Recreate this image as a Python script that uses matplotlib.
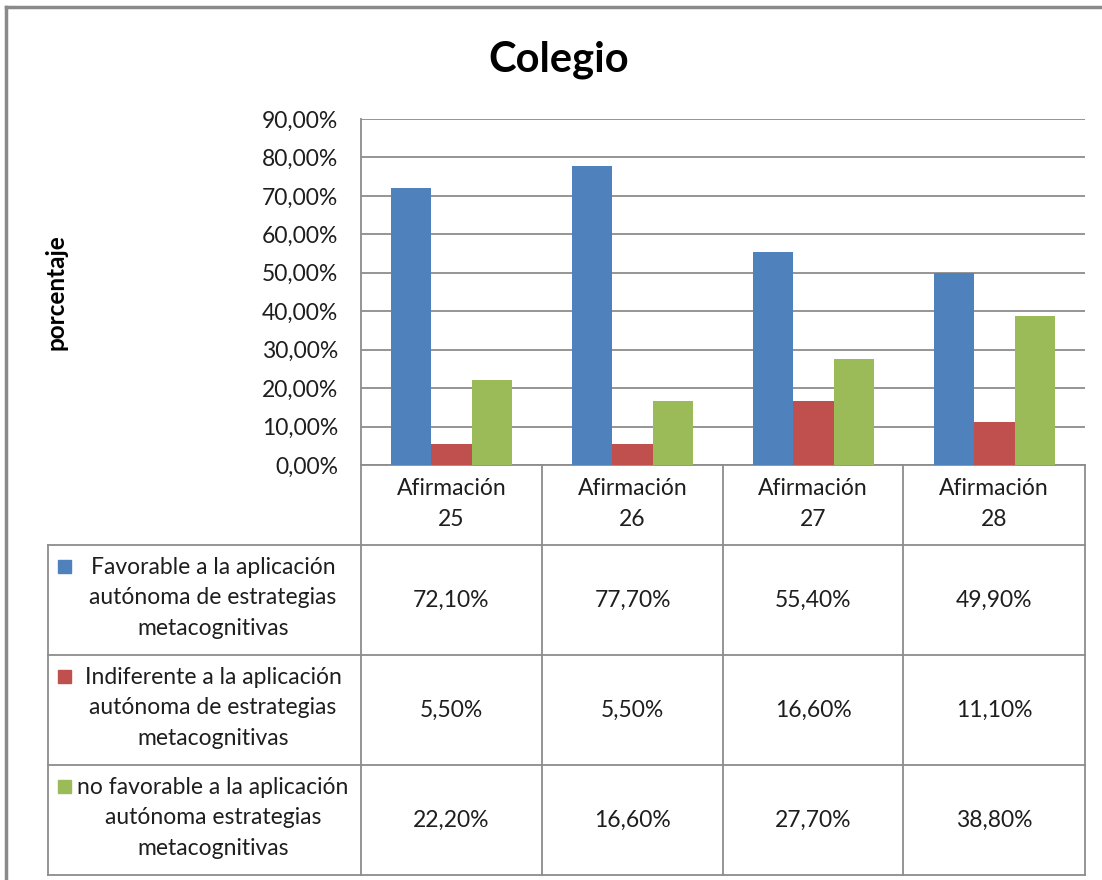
import numpy as np
import matplotlib
matplotlib.use("Agg")
import matplotlib.pyplot as plt
from matplotlib.patches import Rectangle
from matplotlib.ticker import FuncFormatter

plt.rcParams["font.family"] = ["Lato", "DejaVu Sans"]

# data
categories = ["Afirmación\n25", "Afirmación\n26", "Afirmación\n27", "Afirmación\n28"]
series_names = [
    "Favorable a la aplicación\nautónoma de estrategias\nmetacognitivas",
    "Indiferente a la aplicación\nautónoma de estrategias\nmetacognitivas",
    "no favorable a la aplicación\nautónoma estrategias\nmetacognitivas",
]
favorable = [72.10, 77.70, 55.40, 49.90]
indiferente = [5.50, 5.50, 16.60, 11.10]
no_favorable = [22.20, 16.60, 27.70, 38.80]
yticks = [0, 10, 20, 30, 40, 50, 60, 70, 80, 90]

COLORS = ["#4F81BD", "#C0504D", "#9BBB59"]
GRID = "#8C8C8C"
TXT = "#1E1E1E"
FS = 16.5
LS = 1.55

W, H = 1102, 880


def box(x0, y0, x1, y1):
    return [x0 / W, 1 - y1 / H, (x1 - x0) / W, (y1 - y0) / H]


def pct(v):
    return f"{v:.2f}".replace(".", ",") + "%"


fig = plt.figure(figsize=(W / 100, H / 100), dpi=100)

# plot area
ax = fig.add_axes(box(361, 119, 1085, 465))
series = [favorable, indiferente, no_favorable]
x = np.arange(len(categories))
bw = 0.222
for i, (vals, col) in enumerate(zip(series, COLORS)):
    ax.bar(x + (i - 1) * bw, vals, bw, color=col, zorder=3)

ax.set_xlim(-0.5, len(categories) - 0.5)
ax.set_ylim(yticks[0], yticks[-1])
ax.set_yticks(yticks)
ax.yaxis.set_major_formatter(FuncFormatter(lambda v, p: pct(v)))
ax.set_xticks([])
ax.grid(axis="y", color=GRID, lw=1.3, zorder=0)
for s in ["top", "right"]:
    ax.spines[s].set_visible(False)
for s in ["left", "bottom"]:
    ax.spines[s].set_color(GRID)
    ax.spines[s].set_linewidth(1.3)
ax.tick_params(axis="y", length=0, pad=16.5, labelsize=FS, colors=TXT)

# table overlay in pixel coordinates
tab = fig.add_axes([0, 0, 1, 1], facecolor="none")
tab.set_xlim(0, W)
tab.set_ylim(H, 0)
tab.axis("off")

col_edges = [361, 542, 723, 903, 1085]
row_edges = [545, 655, 765, 875]
kw = dict(color=GRID, lw=1.3)
for y in row_edges:
    tab.plot([48, 1085], [y, y], **kw)
tab.plot([48, 48], [545, 875], **kw)
for xe in col_edges:
    tab.plot([xe, xe], [465, 875], **kw)

for j, cat in enumerate(categories):
    cx = (col_edges[j] + col_edges[j + 1]) / 2
    tab.text(cx, 504, cat, ha="center", va="center", fontsize=FS,
             color=TXT, linespacing=LS)
    for r, vals in enumerate(series):
        cy = (row_edges[r] + row_edges[r + 1]) / 2
        tab.text(cx, cy, pct(vals[j]), ha="center", va="center",
                 fontsize=FS, color=TXT)

for r, (name, col) in enumerate(zip(series_names, COLORS)):
    cy = (row_edges[r] + row_edges[r + 1]) / 2
    tab.text(213, cy - 2, name, ha="center", va="center", fontsize=FS,
             color=TXT, linespacing=LS)
    tab.add_patch(Rectangle((58, cy - 40), 13, 13, color=col))

# outer frame
tab.plot([6, 6], [7, 880], color="#8A8A8A", lw=2.5)
tab.plot([6, 1102], [7, 7], color="#8A8A8A", lw=2.5)

fig.text(559 / W, 1 - 60 / H, "Colegio", ha="center", va="center",
         fontsize=30, fontweight="bold", color="black")
fig.text(56 / W, 1 - 292 / H, "porcentaje", ha="center", va="center",
         rotation=90, fontsize=17.5, fontweight="bold", color="black")

fig.savefig("out.png", dpi=100)
